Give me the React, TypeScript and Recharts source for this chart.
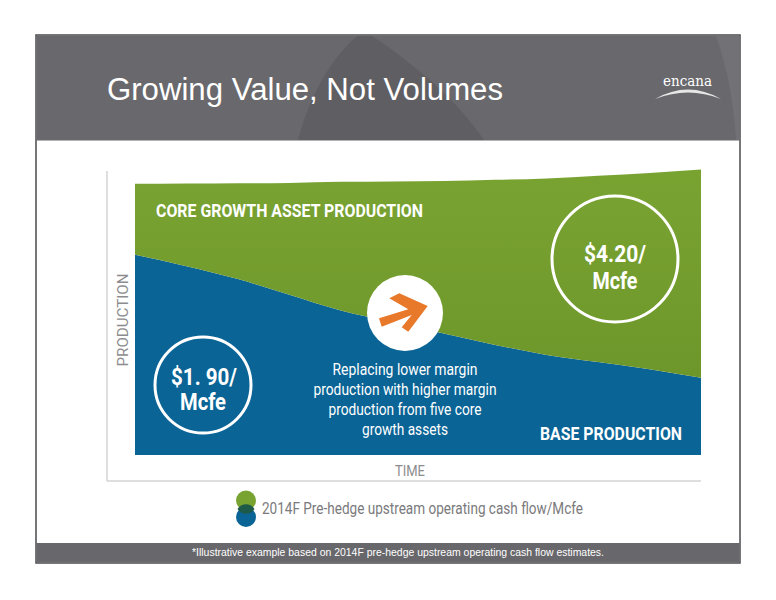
import React from 'react';
import { AreaChart, Area, XAxis, YAxis } from 'recharts';

// time steps along the x axis (illustrative, no units)
const TIME = [0, 1, 2, 3, 4, 5, 6, 7, 8, 9, 10, 11];
// base production (blue), declining
const BASE = [70, 66, 61.5, 56, 50.5, 46.5, 42.5, 38.5, 35, 32.5, 30, 27];
// core growth asset production (green), stacked on top of base
const GROWTH = [24.8, 28.9, 33.5, 39.1, 45, 49.1, 53.3, 57.7, 61.7, 65.1, 68.6, 72.8];

const GREEN = '#79a331';
const BLUE = '#0a6496';
const COND = 'Roboto, "Liberation Sans", sans-serif';

const data = TIME.map((t, i) => ({ t, base: BASE[i], growth: GROWTH[i] }));

export default function App() {
  return (
    <div style={{ position: 'absolute', left: 0, top: 0, width: 776, height: 600, background: '#fff', overflow: 'hidden' }}>
      {/* slide background */}
      <svg width={776} height={600} style={{ position: 'absolute', left: 0, top: 0 }}>
        <rect x={36} y={35} width={704} height={528} fill="#fff" stroke="#4a4a4c" strokeWidth={1.5} />
        <rect x={36.5} y={35.5} width={703} height={105} fill="#69686c" />
        <path d="M298 140 C310 95 330 60 357 36 L372 36 C420 68 458 102 484 140 Z" fill="#5f5e62" />
        <path d="M716 36 C728 70 734 105 736 140 L739 140 L739 36 Z" fill="#727175" />
        <text x={107} y={100} fill="#fff" fontFamily='"Liberation Sans", Arial, sans-serif' fontSize={31} textLength={396} lengthAdjust="spacingAndGlyphs">
          Growing Value, Not Volumes
        </text>
        {/* logo */}
        <text x={663} y={86} fill="#fff" fontFamily='"DejaVu Serif", "Liberation Serif", serif' fontSize={15} textLength={49} lengthAdjust="spacingAndGlyphs">
          encana
        </text>
        <path d="M655 99 Q688 80 721 99 Q688 86 655 99 Z" fill="#e6e6e6" />

        {/* axis L */}
        <line x1={107} y1={171} x2={107} y2={481} stroke="#d4d4d4" strokeWidth={1.5} />
        <line x1={107} y1={481} x2={701} y2={481} stroke="#d4d4d4" strokeWidth={1.5} />
        <text transform="translate(128 320) rotate(-90)" textAnchor="middle" fill="#8c8c8e" fontFamily={COND} fontSize={15} textLength={93} lengthAdjust="spacingAndGlyphs">
          PRODUCTION
        </text>
        <text x={410} y={476} textAnchor="middle" fill="#8c8c8e" fontFamily={COND} fontSize={15} textLength={30} lengthAdjust="spacingAndGlyphs">
          TIME
        </text>

        {/* legend */}
        <circle cx={246} cy={500.5} r={10} fill={GREEN} />
        <circle cx={246} cy={517} r={10} fill={BLUE} />
        <path d="M237.5 509 A10 10 0 0 0 254.5 509 A10 10 0 0 0 237.5 509 Z" fill="#1d5a4a" />
        <text x={262} y={514} fill="#7a7a7c" fontFamily={COND} fontSize={16} textLength={321} lengthAdjust="spacingAndGlyphs">
          2014F Pre-hedge upstream operating cash flow/Mcfe
        </text>

        {/* footer */}
        <rect x={36.5} y={543} width={703} height={19.5} fill="#68676b" />
        <text x={192} y={556} fill="#fff" fontFamily='"Liberation Sans", Arial, sans-serif' fontSize={10.5} textLength={412} lengthAdjust="spacingAndGlyphs">
          *Illustrative example based on 2014F pre-hedge upstream operating cash flow estimates.
        </text>
      </svg>

      {/* chart */}
      <div style={{ position: 'absolute', left: 135, top: 169 }}>
        <AreaChart width={566} height={286} data={data} margin={{ top: 0, right: 0, bottom: 0, left: 0 }}>
          <defs>
            <linearGradient id="shade" x1="0" y1="0" x2="0" y2="1">
              <stop offset="0" stopColor={GREEN} />
              <stop offset="1" stopColor="#6e972b" />
            </linearGradient>
          </defs>
          <XAxis dataKey="t" type="number" domain={[0, 11]} hide />
          <YAxis type="number" domain={[0, 100]} hide />
          <Area dataKey="base" stackId="a" type="monotone" fill={BLUE} fillOpacity={1} stroke="none" isAnimationActive={false} />
          <Area dataKey="growth" stackId="a" type="monotone" fill="url(#shade)" fillOpacity={1} stroke="none" isAnimationActive={false} />
        </AreaChart>
      </div>

      {/* annotations */}
      <svg width={776} height={600} style={{ position: 'absolute', left: 0, top: 0, pointerEvents: 'none' }}>
        <text x={156} y={217} fill="#fff" fontFamily={COND} fontWeight={700} fontSize={19} textLength={267} lengthAdjust="spacingAndGlyphs">
          CORE GROWTH ASSET PRODUCTION
        </text>

        <circle cx={615} cy={259} r={63} fill="none" stroke="#fff" strokeWidth={3} />
        <text x={615} y={262} textAnchor="middle" fill="#fff" fontFamily={COND} fontWeight={700} fontSize={24} textLength={62} lengthAdjust="spacingAndGlyphs">
          $4.20/
        </text>
        <text x={615} y={289} textAnchor="middle" fill="#fff" fontFamily={COND} fontWeight={700} fontSize={24} textLength={45} lengthAdjust="spacingAndGlyphs">
          Mcfe
        </text>

        <circle cx={203} cy={385} r={48} fill="none" stroke="#fff" strokeWidth={3} />
        <text x={204} y={385} textAnchor="middle" fill="#fff" fontFamily={COND} fontWeight={700} fontSize={23} textLength={66} lengthAdjust="spacingAndGlyphs">
          $1. 90/
        </text>
        <text x={203} y={410} textAnchor="middle" fill="#fff" fontFamily={COND} fontWeight={700} fontSize={23} textLength={46} lengthAdjust="spacingAndGlyphs">
          Mcfe
        </text>

        <circle cx={405} cy={313} r={38} fill="#fff" />
        <polygon
          points="389.3,298.3 399.3,293.3 427.7,306 408.3,331.7 401.7,327.3 411.7,315 381.7,326.7 379,318.3 408.3,309.3"
          fill="#e8782a"
        />

        <g fill="#fff" fontFamily={COND} fontSize={16} textAnchor="middle">
          <text x={405} y={375} textLength={145} lengthAdjust="spacingAndGlyphs">Replacing lower margin</text>
          <text x={405} y={395} textLength={183} lengthAdjust="spacingAndGlyphs">production with higher margin</text>
          <text x={405} y={415} textLength={153} lengthAdjust="spacingAndGlyphs">production from five core</text>
          <text x={405} y={435} textLength={86} lengthAdjust="spacingAndGlyphs">growth assets</text>
        </g>

        <text x={540} y={440} fill="#fff" fontFamily={COND} fontWeight={700} fontSize={19} textLength={142} lengthAdjust="spacingAndGlyphs">
          BASE PRODUCTION
        </text>
      </svg>
    </div>
  );
}
